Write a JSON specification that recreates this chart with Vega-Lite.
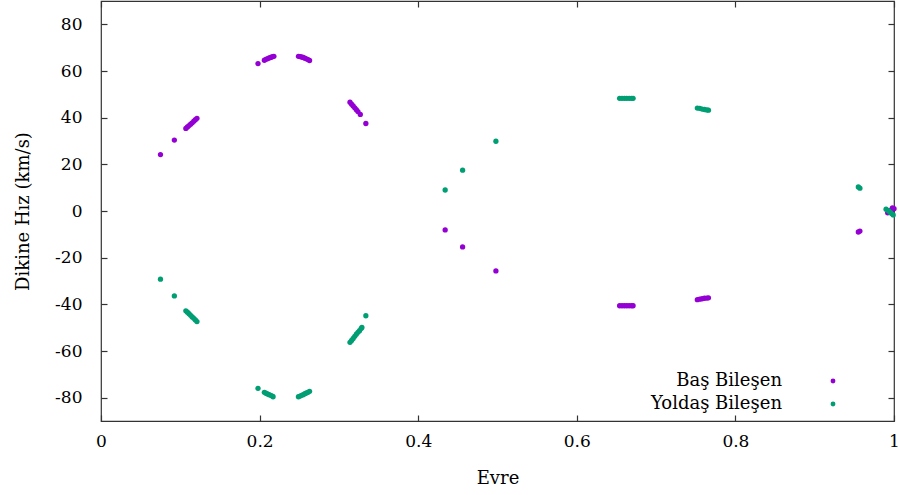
{
  "$schema": "https://vega.github.io/schema/vega-lite/v6.json",
  "autosize": {"type": "none"},
  "width": 793,
  "height": 420,
  "padding": {"left": 101, "top": 1, "right": 4, "bottom": 74},
  "background": "white",
  "config": {
    "font": "DejaVu Serif",
    "view": {"stroke": "#333333", "strokeWidth": 1.2},
    "axis": {
      "labelFont": "DejaVu Serif",
      "titleFont": "DejaVu Serif",
      "labelFontSize": 17,
      "titleFontSize": 18,
      "titleFontWeight": "normal",
      "labelColor": "black",
      "titleColor": "black",
      "grid": false,
      "domain": false,
      "tickColor": "#333333",
      "tickSize": -6,
      "tickWidth": 1.2
    },
    "legend": {
      "labelFont": "DejaVu Serif",
      "labelFontSize": 18,
      "labelColor": "black"
    }
  },
  "datasets": {
    "bas": [
      {"evre": 0.075, "hiz": 24.2}, {"evre": 0.0925, "hiz": 30.4},
      {"evre": 0.107, "hiz": 35.4}, {"evre": 0.109, "hiz": 36.0}, {"evre": 0.111, "hiz": 36.6}, {"evre": 0.113, "hiz": 37.2},
      {"evre": 0.115, "hiz": 37.8}, {"evre": 0.117, "hiz": 38.5}, {"evre": 0.119, "hiz": 39.1}, {"evre": 0.121, "hiz": 39.7},
      {"evre": 0.198, "hiz": 63.2}, {"evre": 0.206, "hiz": 64.6}, {"evre": 0.208, "hiz": 65.0}, {"evre": 0.210, "hiz": 65.3},
      {"evre": 0.212, "hiz": 65.6}, {"evre": 0.214, "hiz": 65.8}, {"evre": 0.216, "hiz": 66.1}, {"evre": 0.218, "hiz": 66.3},
      {"evre": 0.249, "hiz": 66.3}, {"evre": 0.251, "hiz": 66.2}, {"evre": 0.253, "hiz": 66.0}, {"evre": 0.255, "hiz": 65.8},
      {"evre": 0.257, "hiz": 65.5}, {"evre": 0.259, "hiz": 65.2}, {"evre": 0.261, "hiz": 64.9}, {"evre": 0.263, "hiz": 64.5},
      {"evre": 0.314, "hiz": 46.6}, {"evre": 0.316, "hiz": 45.8}, {"evre": 0.318, "hiz": 45.0}, {"evre": 0.320, "hiz": 44.2},
      {"evre": 0.322, "hiz": 43.4}, {"evre": 0.324, "hiz": 42.6}, {"evre": 0.327, "hiz": 41.4},
      {"evre": 0.334, "hiz": 37.5},
      {"evre": 0.434, "hiz": -8.1}, {"evre": 0.456, "hiz": -15.4}, {"evre": 0.498, "hiz": -25.7},
      {"evre": 0.654, "hiz": -40.6}, {"evre": 0.657, "hiz": -40.6}, {"evre": 0.660, "hiz": -40.6}, {"evre": 0.663, "hiz": -40.6},
      {"evre": 0.666, "hiz": -40.6}, {"evre": 0.669, "hiz": -40.6}, {"evre": 0.671, "hiz": -40.6},
      {"evre": 0.752, "hiz": -38.0}, {"evre": 0.755, "hiz": -37.8}, {"evre": 0.758, "hiz": -37.6}, {"evre": 0.761, "hiz": -37.4},
      {"evre": 0.764, "hiz": -37.3}, {"evre": 0.766, "hiz": -37.2},
      {"evre": 0.957, "hiz": -8.6}, {"evre": 0.955, "hiz": -9.0},
      {"evre": 0.992, "hiz": -0.8}, {"evre": 0.996, "hiz": 0.4}, {"evre": 0.998, "hiz": 1.3}, {"evre": 1.0, "hiz": 1.0}
    ],
    "yoldas": [
      {"evre": 0.075, "hiz": -29.2}, {"evre": 0.0925, "hiz": -36.4},
      {"evre": 0.107, "hiz": -42.8}, {"evre": 0.109, "hiz": -43.4}, {"evre": 0.111, "hiz": -44.0}, {"evre": 0.113, "hiz": -44.7},
      {"evre": 0.115, "hiz": -45.4}, {"evre": 0.117, "hiz": -46.0}, {"evre": 0.119, "hiz": -46.7}, {"evre": 0.121, "hiz": -47.4},
      {"evre": 0.198, "hiz": -76.0}, {"evre": 0.206, "hiz": -77.7}, {"evre": 0.208, "hiz": -78.1}, {"evre": 0.210, "hiz": -78.4},
      {"evre": 0.212, "hiz": -78.7}, {"evre": 0.214, "hiz": -79.0}, {"evre": 0.216, "hiz": -79.3}, {"evre": 0.217, "hiz": -79.6},
      {"evre": 0.249, "hiz": -79.6}, {"evre": 0.251, "hiz": -79.3}, {"evre": 0.253, "hiz": -79.0}, {"evre": 0.255, "hiz": -78.7},
      {"evre": 0.257, "hiz": -78.3}, {"evre": 0.259, "hiz": -78.0}, {"evre": 0.261, "hiz": -77.7}, {"evre": 0.263, "hiz": -77.3},
      {"evre": 0.314, "hiz": -56.3}, {"evre": 0.316, "hiz": -55.5}, {"evre": 0.318, "hiz": -54.6}, {"evre": 0.320, "hiz": -53.7},
      {"evre": 0.322, "hiz": -52.8}, {"evre": 0.324, "hiz": -52.0}, {"evre": 0.326, "hiz": -51.3}, {"evre": 0.328, "hiz": -50.4},
      {"evre": 0.329, "hiz": -49.9},
      {"evre": 0.334, "hiz": -44.9},
      {"evre": 0.434, "hiz": 9.0}, {"evre": 0.456, "hiz": 17.5}, {"evre": 0.498, "hiz": 29.9},
      {"evre": 0.654, "hiz": 48.3}, {"evre": 0.657, "hiz": 48.3}, {"evre": 0.660, "hiz": 48.3}, {"evre": 0.663, "hiz": 48.3},
      {"evre": 0.666, "hiz": 48.3}, {"evre": 0.669, "hiz": 48.3}, {"evre": 0.671, "hiz": 48.3},
      {"evre": 0.752, "hiz": 44.1}, {"evre": 0.755, "hiz": 44.0}, {"evre": 0.758, "hiz": 43.7}, {"evre": 0.761, "hiz": 43.5},
      {"evre": 0.764, "hiz": 43.3}, {"evre": 0.766, "hiz": 43.2},
      {"evre": 0.957, "hiz": 9.8}, {"evre": 0.955, "hiz": 10.3},
      {"evre": 0.990, "hiz": 0.8}, {"evre": 0.993, "hiz": 0.1}, {"evre": 0.995, "hiz": -0.5}, {"evre": 0.997, "hiz": -1.1}, {"evre": 0.999, "hiz": -1.7}
    ]
  },
  "layer": [
    {
      "data": {"name": "bas"},
      "transform": [{"calculate": "'Baş Bileşen'", "as": "bilesen"}],
      "mark": {"type": "point", "shape": "circle", "filled": true, "opacity": 1, "size": 28},
      "encoding": {
        "x": {
          "field": "evre", "type": "quantitative",
          "scale": {"domain": [0, 1], "nice": false, "zero": false},
          "axis": {"title": "Evre", "values": [0, 0.2, 0.4, 0.6, 0.8, 1], "format": "~g", "labelPadding": 18, "titlePadding": 20, "labelFlush": false}
        },
        "y": {
          "field": "hiz", "type": "quantitative",
          "scale": {"domain": [-90, 90], "nice": false, "zero": false},
          "axis": {"title": "Dikine Hız (km/s)", "values": [-80, -60, -40, -20, 0, 20, 40, 60, 80], "labelExpr": "replace(datum.label, '−', '-')", "labelPadding": 25, "titlePadding": 22}
        },
        "color": {
          "field": "bilesen", "type": "nominal",
          "scale": {"domain": ["Baş Bileşen", "Yoldaş Bileşen"], "range": ["#9400D3", "#009E73"]},
          "legend": {
            "title": null,
            "orient": "none",
            "legendX": 723,
            "legendY": 371,
            "padding": 0,
            "symbolType": "circle",
            "symbolSize": 24,
            "labelAlign": "right",
            "labelOffset": -60,
            "rowPadding": 5
          }
        }
      }
    },
    {
      "data": {"name": "yoldas"},
      "transform": [{"calculate": "'Yoldaş Bileşen'", "as": "bilesen"}],
      "mark": {"type": "point", "shape": "circle", "filled": true, "opacity": 1, "size": 28},
      "encoding": {
        "x": {"field": "evre", "type": "quantitative", "axis": null},
        "y": {"field": "hiz", "type": "quantitative", "axis": null},
        "color": {"field": "bilesen", "type": "nominal"}
      }
    },
    {
      "data": {"name": "bas"},
      "mark": {"type": "point", "opacity": 0},
      "encoding": {
        "x": {"field": "evre", "type": "quantitative", "axis": {"orient": "top", "labels": false, "title": null, "values": [0, 0.2, 0.4, 0.6, 0.8, 1]}},
        "y": {"field": "hiz", "type": "quantitative", "axis": {"orient": "right", "labels": false, "title": null, "values": [-80, -60, -40, -20, 0, 20, 40, 60, 80]}}
      }
    }
  ],
  "resolve": {"axis": {"x": "independent", "y": "independent"}}
}
